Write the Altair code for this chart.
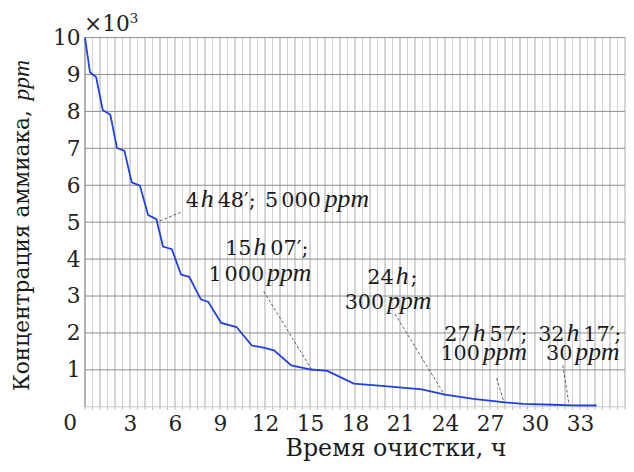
import altair as alt
import pandas as pd

# ---------------- data ----------------
hours = [0, 0.33, 0.74, 1.18, 1.69, 2.13, 2.63, 3.11, 3.66, 4.21, 4.76, 5.2, 5.79,
         6.4, 6.95, 7.72, 8.22, 9.08, 10.1, 11.12, 11.89, 12.6, 13.75, 15.07, 16.16,
         17.92, 20.0, 22.45, 24.0, 25.9, 28.0, 29.2, 31.2, 32.4, 34.1]
ppm = [10000, 9060, 8930, 8040, 7910, 7010, 6930, 6080, 5990, 5190, 5080, 4340, 4270,
       3580, 3520, 2910, 2840, 2270, 2160, 1660, 1600, 1530, 1120, 1010, 970,
       630, 560, 470, 330, 215, 120, 80, 55, 40, 35]

x_tick_labels = [3, 6, 9, 12, 15, 18, 21, 24, 27, 30, 33]
y_tick_labels = [1, 2, 3, 4, 5, 6, 7, 8, 9, 10]          # x 10^3 ppm

ann_hours = [4.8, 15.12, 24.0, 27.95, 32.28]
ann_ppm = [5000, 1000, 300, 100, 30]

# annotation text pieces ("*" = italic, numbers = small gaps in px)
ann_text = [
    ["4", 2, "*h", 4, "48′;", 8, "5", 3, "000", 4, "*ppm"],
    ["15", 2, "*h", 4, "07′;"],
    ["1", 3, "000", 3, "*ppm"],
    ["24", 2, "*h", 2, ";"],
    ["300", 3, "*ppm"],
    ["27", 2, "*h", 4, "57′;"],
    ["100", 3, "*ppm"],
    ["32", 2, "*h", 4, "17′;"],
    ["30", 3, "*ppm"],
]

# ---------------- layout ----------------
FONT = "DejaVu Serif"
IFONT = "Liberation Serif"
W, H = 547, 374
XMAX, YMAX = 36, 10000
LEFT, TOP, BOTTOM = 78, 27, 55
OX, OY = 8 + LEFT, 8 + TOP          # plot origin in page pixels


def to_h(px):
    return (px - OX) * XMAX / W


def to_ppm(py):
    return (OY + H - py) * YMAX / H


ann_pos = [(188, 207), (228, 255), (211, 282), (372, 285), (349, 310),
           (450, 342), (446, 362), (545, 342), (553, 362)]
lead_start = [(183, 212), (267, 292), (400, 315), (503, 380), (570, 367)]

ANN_FS = 21
ANN_IFS = 26
EM_N = {";": 0.337, "′": 0.30, " ": 0.318}
EM_I = {"h": 0.5, "p": 0.5, "m": 0.722}


def text_w(s, it):
    if it:
        return sum(EM_I.get(c, 0.5) for c in s) * ANN_IFS
    return sum((0.636 if c.isdigit() else EM_N.get(c, 0.6)) for c in s) * ANN_FS


rows = []
for (sx, by), toks in zip(ann_pos, ann_text):
    cur = sx
    for t in toks:
        if isinstance(t, (int, float)):
            cur += t
            continue
        it = 1 if t.startswith("*") else 0
        s = t.lstrip("*")
        rows.append({"h": to_h(cur), "ppm": to_ppm(by), "t": s, "it": it})
        cur += text_w(s, it)
frag_df = pd.DataFrame(rows)

lead_df = pd.DataFrame({
    "h": [to_h(p[0]) for p in lead_start],
    "ppm": [to_ppm(p[1]) for p in lead_start],
    "h2": ann_hours,
    "ppm2": ann_ppm,
})

curve_df = pd.DataFrame({"h": hours, "ppm": ppm})

half = [i * 0.5 for i in range(int(XMAX * 2) + 1)]
vgrid_df = pd.DataFrame({"h": half, "major": [1 if v % 1 == 0 else 0 for v in half]})
hgrid_df = pd.DataFrame({"ppm": [v * 1000 for v in y_tick_labels]})

x_scale = alt.Scale(domain=[0, XMAX], nice=False, zero=False)
y_scale = alt.Scale(domain=[0, YMAX], nice=False, zero=True)

x_enc = alt.X(
    "h:Q", scale=x_scale, title=None,
    axis=alt.Axis(
        values=x_tick_labels, grid=False, ticks=False, domain=False,
        labelFont=FONT, labelFontSize=22, labelColor="#222222", labelPadding=7,
        labelOverlap=False, labelFlush=False,
    ),
)
y_enc = alt.Y(
    "ppm:Q", scale=y_scale, title=None,
    axis=alt.Axis(
        values=[v * 1000 for v in y_tick_labels],
        labelExpr="format(datum.value / 1000, 'd')",
        grid=False, ticks=False, domain=False,
        labelFont=FONT, labelFontSize=22, labelColor="#222222", labelPadding=5,
    ),
)

vminor = alt.Chart(vgrid_df).transform_filter("datum.major == 0").mark_rule(
    color="#d0d0d0", strokeWidth=1).encode(x=alt.X("h:Q", scale=x_scale))
vmajor = alt.Chart(vgrid_df).transform_filter("datum.major == 1").mark_rule(
    color="#a8a8a8", strokeWidth=1).encode(x=alt.X("h:Q", scale=x_scale))
vstub = alt.Chart(vgrid_df).mark_rule(color="#b8b8b8", strokeWidth=1).encode(
    x=alt.X("h:Q", scale=x_scale), y=alt.value(H), y2=alt.value(H + 3))
hgrid = alt.Chart(hgrid_df).mark_rule(color="#8c8c8c", strokeWidth=1).encode(
    y=alt.Y("ppm:Q", scale=y_scale))
baseline_rule = alt.Chart(pd.DataFrame({"ppm": [0]})).mark_rule(
    color="#c8c8c8", strokeWidth=1).encode(y=alt.Y("ppm:Q", scale=y_scale))
left_rule = alt.Chart(pd.DataFrame({"h": [0]})).mark_rule(
    color="#8c8c8c", strokeWidth=1).encode(x=alt.X("h:Q", scale=x_scale))

line = alt.Chart(curve_df).mark_line(color="#1e40e6", strokeWidth=1.8).encode(x=x_enc, y=y_enc)

leaders = alt.Chart(lead_df).mark_rule(color="#3a3a3a", strokeWidth=0.8, strokeDash=[3, 2]).encode(
    x="h:Q", y="ppm:Q", x2="h2:Q", y2="ppm2:Q"
)

frag_n = alt.Chart(frag_df).transform_filter("datum.it == 0").mark_text(
    align="left", baseline="alphabetic", font=FONT, fontSize=ANN_FS, color="#1a1a1a"
).encode(x="h:Q", y="ppm:Q", text="t:N")
frag_i = alt.Chart(frag_df).transform_filter("datum.it == 1").mark_text(
    align="left", baseline="alphabetic", font=IFONT, fontSize=ANN_IFS, fontStyle="italic", color="#1a1a1a"
).encode(x="h:Q", y="ppm:Q", text="t:N")

zero_lbl = alt.Chart(pd.DataFrame({"h": [0], "ppm": [0], "t": ["0"]})).mark_text(
    align="center", baseline="alphabetic", font=FONT, fontSize=22, color="#222222", dx=-15, dy=24
).encode(x="h:Q", y="ppm:Q", text="t:N")

mult = alt.Chart(pd.DataFrame({"h": [0], "ppm": [YMAX], "t": ["×10"]})).mark_text(
    align="left", baseline="alphabetic", font=FONT, fontSize=22, color="#222222", dx=-1, dy=-7
).encode(x="h:Q", y="ppm:Q", text="t:N")
mult_exp = alt.Chart(pd.DataFrame({"h": [0], "ppm": [YMAX], "t": ["3"]})).mark_text(
    align="left", baseline="alphabetic", font=FONT, fontSize=14, color="#222222", dx=45, dy=-15
).encode(x="h:Q", y="ppm:Q", text="t:N")

# y axis title (rotated), two parts
YT_FS = 22
yt_main = "Концентрация аммиака,"
yt_w = 13.05 * YT_FS
ytitle_n = alt.Chart(pd.DataFrame({"t": [yt_main]})).mark_text(
    align="left", baseline="alphabetic", angle=270, font=FONT, fontSize=YT_FS, color="#1a1a1a"
).encode(x=alt.value(29 - OX), y=alt.value(393 - OY), text="t:N")
ytitle_i = alt.Chart(pd.DataFrame({"t": ["ppm"]})).mark_text(
    align="left", baseline="alphabetic", angle=270, font=IFONT, fontSize=24, fontStyle="italic", color="#1a1a1a"
).encode(x=alt.value(29 - OX), y=alt.value(393 - OY - yt_w - 0.32 * YT_FS), text="t:N")

xtitle = alt.Chart(pd.DataFrame({"t": ["Время очистки, ч"]})).mark_text(
    align="center", baseline="alphabetic", font=FONT, fontSize=24, color="#1a1a1a"
).encode(x=alt.value(401 - OX), y=alt.value(459 - OY), text="t:N")

chart = alt.layer(
    vminor, vmajor, vstub, hgrid, baseline_rule, left_rule,
    line, leaders, frag_n, frag_i, zero_lbl, mult, mult_exp, ytitle_n, ytitle_i, xtitle
).properties(
    width=W,
    height=H,
    padding={"left": LEFT, "top": TOP, "right": 1, "bottom": BOTTOM},
    autosize=alt.AutoSizeParams(type="none"),
    background="white",
).configure_view(stroke=None)

chart.save("out.html", embed_options={"renderer": "svg", "actions": False})
